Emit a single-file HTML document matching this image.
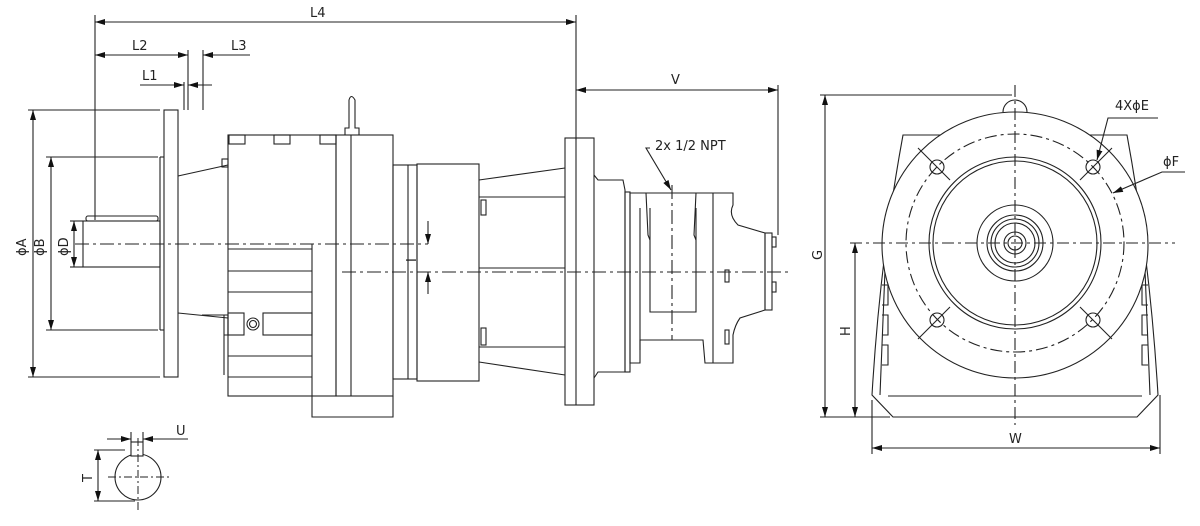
<!DOCTYPE html>
<html><head><meta charset="utf-8"><style>
html,body{margin:0;padding:0;background:#fff;}
svg{display:block}
text{font-family:"DejaVu Sans","Liberation Sans",sans-serif;font-size:13px;fill:#222}
</style></head><body>
<svg width="1200" height="526" viewBox="0 0 1200 526" xmlns="http://www.w3.org/2000/svg">
<defs>
<marker id="a" viewBox="0 0 10 6" refX="10" refY="3" markerWidth="10" markerHeight="6" orient="auto-start-reverse" markerUnits="userSpaceOnUse"><path d="M0,0 L10,3 L0,6z" fill="#111"/></marker>
</defs>
<g stroke="#222" stroke-width="1.1" fill="none">
<line x1="95" y1="15" x2="95" y2="220"/>
<line x1="576" y1="15" x2="576" y2="140"/>
<line x1="95" y1="22" x2="576" y2="22" marker-start="url(#a)" marker-end="url(#a)"/>
<line x1="188" y1="50" x2="188" y2="110"/>
<line x1="203" y1="50" x2="203" y2="110"/>
<line x1="95" y1="55" x2="188" y2="55" marker-start="url(#a)" marker-end="url(#a)"/>
<line x1="250" y1="55" x2="203" y2="55" marker-end="url(#a)"/>
<line x1="184" y1="82" x2="184" y2="110"/>
<line x1="140" y1="85" x2="184" y2="85" marker-end="url(#a)"/>
<line x1="212" y1="85" x2="188" y2="85" marker-end="url(#a)"/>
<line x1="28" y1="110" x2="160" y2="110"/><line x1="28" y1="377" x2="160" y2="377"/>
<line x1="33" y1="110" x2="33" y2="377" marker-start="url(#a)" marker-end="url(#a)"/>
<line x1="46" y1="157" x2="158" y2="157"/><line x1="46" y1="330" x2="158" y2="330"/>
<line x1="51" y1="157" x2="51" y2="330" marker-start="url(#a)" marker-end="url(#a)"/>
<line x1="70" y1="221" x2="83" y2="221"/><line x1="70" y1="267" x2="83" y2="267"/>
<line x1="74" y1="221" x2="74" y2="267" marker-start="url(#a)" marker-end="url(#a)"/>
<rect x="164" y="110" width="14" height="267"/>
<line x1="160" y1="157" x2="160" y2="330"/><line x1="160" y1="157" x2="164" y2="157"/><line x1="160" y1="330" x2="164" y2="330"/>
<rect x="83" y="221" width="77" height="46"/>
<rect x="86" y="216" width="72" height="5" rx="2"/>
<line x1="178" y1="176" x2="228" y2="165"/>
<line x1="178" y1="313" x2="228" y2="318"/>
<rect x="222" y="159" width="6" height="8"/>
<path d="M202 315 L228 315 L228 335 L224 335"/>
<line x1="224" y1="315" x2="224" y2="375"/>
<rect x="228" y="135" width="108" height="261"/>
<rect x="229" y="135" width="16" height="9"/><rect x="274" y="135" width="16" height="9"/><rect x="320" y="135" width="16" height="9"/>
<line x1="228" y1="249" x2="312" y2="249"/><line x1="228" y1="271" x2="312" y2="271"/>
<line x1="228" y1="292" x2="312" y2="292"/><line x1="228" y1="356" x2="312" y2="356"/><line x1="228" y1="377" x2="312" y2="377"/>
<rect x="228" y="313" width="16" height="22"/>
<circle cx="253" cy="324" r="6"/><circle cx="253" cy="324" r="3.5"/>
<rect x="263" y="313" width="49" height="22"/>
<path d="M312 244 L312 417 L393 417 L393 396"/>
<rect x="336" y="135" width="57" height="261"/>
<line x1="351" y1="135" x2="351" y2="396"/>
<path d="M345 135 L345 128 L349 128 L349 100 Q351 93 355 100 L355 128 L359 128 L359 135"/>
<rect x="393" y="165" width="24" height="214"/><line x1="408" y1="165" x2="408" y2="379"/>
<rect x="417" y="164" width="62" height="217"/>
<line x1="479" y1="180" x2="565" y2="168"/><line x1="479" y1="362" x2="565" y2="375"/>
<line x1="479" y1="197" x2="565" y2="197"/><line x1="479" y1="347" x2="565" y2="347"/>
<line x1="479" y1="268" x2="565" y2="268"/>
<rect x="481" y="200" width="5" height="15"/><rect x="481" y="328" width="5" height="17"/>
<rect x="565" y="138" width="29" height="267"/><line x1="576" y1="138" x2="576" y2="405"/>
<path d="M594 175 L598 180 L623 180 L625 190 L625 372 L598 372 L594 378"/>
<rect x="625" y="192" width="5" height="180"/>
<path d="M630 193 L733 193 L733 205 Q728 215 738 225 L765 233 L765 310 L740 318 Q735 325 733 335 L733 363 L705 363 L703 340 L640 340 L640 363 L630 363 Z"/>
<line x1="713" y1="193" x2="713" y2="363"/>
<path d="M640 208 L640 350"/><path d="M650 208 L650 312 L696 312 L696 208"/>
<path d="M646 193 L648 235 L650 240"/><path d="M696 193 L694 235 L696 240"/>
<rect x="765" y="233" width="7" height="77"/><rect x="772" y="237" width="4" height="10"/><rect x="772" y="282" width="4" height="10"/>
<rect x="725" y="270" width="4" height="12"/><rect x="725" y="330" width="4" height="14"/>
<line x1="778" y1="85" x2="778" y2="235"/>
<line x1="576" y1="90" x2="778" y2="90" marker-start="url(#a)" marker-end="url(#a)"/>
<path d="M650 148 L646 148 L671 190" marker-end="url(#a)"/>
<line x1="428" y1="221" x2="428" y2="244" marker-end="url(#a)"/>
<line x1="428" y1="294" x2="428" y2="272" marker-end="url(#a)"/>
</g>
<g stroke="#222" stroke-width="1.1" fill="none" stroke-dasharray="14,4,3,4">
<line x1="75" y1="244" x2="428" y2="244"/>
<line x1="342" y1="272" x2="790" y2="272"/>
<line x1="672" y1="185" x2="672" y2="340"/>
</g>
<g stroke="#222" stroke-width="1.1" fill="none">
<path d="M903 135 L1127 135 Q1150 260 1158 395 L1137 417 L893 417 L872 395 Q880 260 903 135Z"/>
<line x1="888" y1="396" x2="1142" y2="396"/>
<path d="M885 270 L880 395 M1145 270 L1150 395"/>
<path d="M882 285 h6 v20 h-6 M882 315 h6 v20 h-6 M882 345 h6 v20 h-6 M1148 285 h-6 v20 h6 M1148 315 h-6 v20 h6 M1148 345 h-6 v20 h6"/>
<path d="M1003 112 A12 12 0 0 1 1027 112"/>
<circle cx="1015" cy="245" r="133" fill="#fff"/>
<circle cx="1015" cy="243" r="86"/><circle cx="1015" cy="243" r="82"/>
<circle cx="1015" cy="243" r="38"/><circle cx="1015" cy="243" r="28"/><circle cx="1015" cy="243" r="24"/>
<circle cx="1015" cy="243" r="20"/><circle cx="1015" cy="243" r="11"/><circle cx="1015" cy="243" r="7"/>
<circle cx="937" cy="167" r="7"/><circle cx="1093" cy="167" r="7"/><circle cx="937" cy="320" r="7"/><circle cx="1093" cy="320" r="7"/>
<line x1="918" y1="148" x2="950" y2="180"/><line x1="1112" y1="148" x2="1080" y2="180"/>
<line x1="918" y1="339" x2="950" y2="307"/><line x1="1112" y1="339" x2="1080" y2="307"/>
<line x1="820" y1="95" x2="1012" y2="95"/><line x1="820" y1="417" x2="890" y2="417"/>
<line x1="825" y1="95" x2="825" y2="417" marker-start="url(#a)" marker-end="url(#a)"/>
<line x1="855" y1="243" x2="855" y2="417" marker-start="url(#a)" marker-end="url(#a)"/>
<line x1="872" y1="400" x2="872" y2="454"/><line x1="1160" y1="395" x2="1160" y2="454"/>
<line x1="872" y1="448" x2="1160" y2="448" marker-start="url(#a)" marker-end="url(#a)"/>
<path d="M1158 118 L1108 118 L1097 160" marker-end="url(#a)"/>
<path d="M1185 172 L1162 172 L1113 193" marker-end="url(#a)"/>
</g>
<g stroke="#222" stroke-width="1.1" fill="none" stroke-dasharray="12,4,3,4">
<circle cx="1015" cy="243" r="109"/>
<line x1="850" y1="243" x2="1175" y2="243"/>
<line x1="1015" y1="85" x2="1015" y2="425"/>
</g>
<g stroke="#222" stroke-width="1.1" fill="none">
<circle cx="138" cy="477" r="23"/>
<rect x="131" y="442" width="12" height="14" fill="#fff"/>
<line x1="131" y1="432" x2="131" y2="442"/><line x1="143" y1="432" x2="143" y2="442"/>
<line x1="107" y1="439" x2="131" y2="439" marker-end="url(#a)"/>
<line x1="188" y1="439" x2="143" y2="439" marker-end="url(#a)"/>
<line x1="94" y1="450" x2="125" y2="450"/><line x1="94" y1="501" x2="135" y2="501"/>
<line x1="98" y1="450" x2="98" y2="501" marker-start="url(#a)" marker-end="url(#a)"/>
</g>
<g stroke="#222" stroke-width="1" stroke-dasharray="8,3,2,3">
<line x1="108" y1="477" x2="170" y2="477"/><line x1="138" y1="438" x2="138" y2="513"/>
</g>
<text x="310" y="17">L4</text>
<text x="132" y="50">L2</text>
<text x="231" y="50">L3</text>
<text x="142" y="80">L1</text>
<text x="671" y="84">V</text>
<text x="655" y="150">2x 1/2 NPT</text>
<text x="1115" y="110">4XϕE</text>
<text x="1163" y="166">ϕF</text>
<text x="1009" y="443">W</text>
<text x="176" y="435">U</text>
<text transform="translate(26,256) rotate(-90)">ϕA</text>
<text transform="translate(44,256) rotate(-90)">ϕB</text>
<text transform="translate(68,256) rotate(-90)">ϕD</text>
<text transform="translate(822,260) rotate(-90)">G</text>
<text transform="translate(850,336) rotate(-90)">H</text>
<text transform="translate(92,482) rotate(-90)">T</text>
<text transform="translate(416,262) rotate(-90)">I</text>
</svg>
</body></html>
